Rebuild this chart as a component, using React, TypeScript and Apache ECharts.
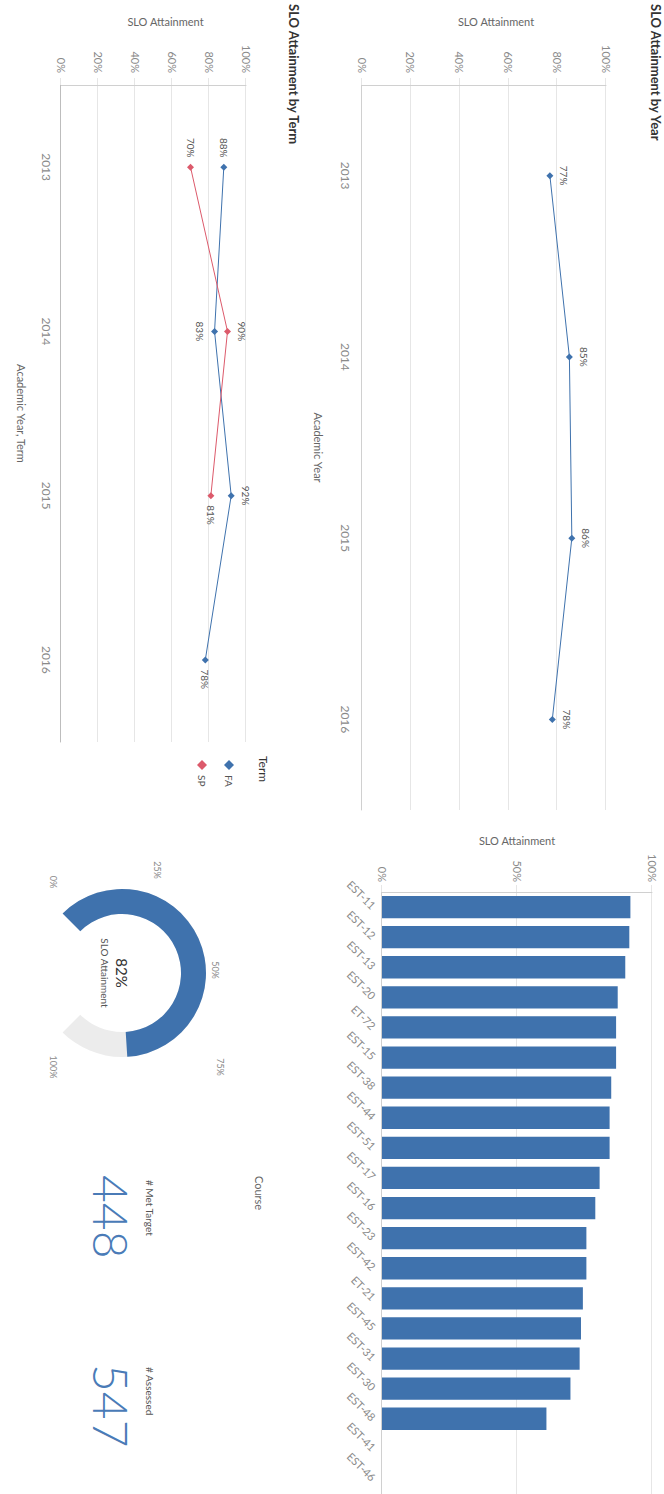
import React, { useEffect, useRef } from "react";
import * as echarts from "echarts";

// ---- data ----
const years = ["2013", "2014", "2015", "2016"];
const yearAttainment = [77, 85, 86, 78];

const terms = ["FA", "SP"];
const faAttainment = [88, 83, 92, 78];
const spAttainment: (number | null)[] = [70, 90, 81, null];

const courses = [
  "EST-11", "EST-12", "EST-13", "EST-20", "ET-72", "EST-15", "EST-38", "EST-44", "EST-51", "EST-17",
  "EST-16", "EST-23", "EST-42", "ET-21", "EST-45", "EST-31", "EST-30", "EST-48", "EST-41", "EST-46",
];
const courseAttainment: (number | null)[] = [
  92.0, 91.6, 90.1, 87.3, 86.7, 86.7, 84.9, 84.3, 84.3, 80.6,
  79.0, 75.7, 75.7, 74.4, 73.7, 73.2, 69.8, 60.9, null, null,
];

const overallAttainment = 82;
const gaugeTicks = ["0%", "25%", "50%", "75%", "100%"];
const metTarget = 448;
const assessed = 547;

// ---- styling ----
const FONT = "Lato, 'Open Sans', 'Noto Sans', sans-serif";
const BLUE = "#3f72ad";
const RED = "#dc5a6b";
const GRID = "#e6e6e6";
const AXIS = "#d0d0d0";
const TICK_TXT = "#8a8a8a";
const NAME_TXT = "#666";

const W = 1494;
const H = 664;

const valueAxis = (gridIndex: number, interval: number, nameGap: number, shift: number) => ({
  type: "value" as const,
  gridIndex,
  min: 0,
  max: 100,
  interval,
  name: "SLO Attainment",
  nameLocation: "middle" as const,
  nameGap,
  nameTextStyle: { fontSize: 11, color: NAME_TXT, padding: [0, 0, 0, shift] },
  axisLine: { show: true, lineStyle: { color: AXIS } },
  axisTick: { show: true, length: 7, lineStyle: { color: GRID } },
  axisLabel: { fontSize: 11, color: TICK_TXT, margin: 12, formatter: "{value}%" },
  splitLine: { lineStyle: { color: GRID } },
});

const pointLabel = (pos: string) => ({
  show: true,
  position: pos,
  distance: 6,
  fontSize: 10,
  color: "#555",
  formatter: "{c}%",
});

// label placement for each term point, in year order
const faLabelPos = ["left", "bottom", "top", "right"];
const spLabelPos = ["left", "top", "right", "top"];

export default function App() {
  const ref = useRef<HTMLDivElement>(null);

  useEffect(() => {
    if (!ref.current) return;
    const chart = echarts.init(ref.current, undefined, { renderer: "svg", width: W, height: H });

    const gaugeLabelPos: [number, number][] = [
      [882, 611],
      [870, 507],
      [970, 449],
      [1067, 444],
      [1067, 611],
    ];

    const option: any = {
      animation: false,
      backgroundColor: "#fff",
      textStyle: { fontFamily: FONT },
      title: [
        {
          text: "SLO Attainment by Year",
          left: 4,
          top: 2,
          padding: 0,
          textStyle: { fontSize: 13, fontWeight: "bold", color: "#333", fontFamily: FONT },
        },
        {
          text: "SLO Attainment by Term",
          left: 4,
          top: 364,
          padding: 0,
          textStyle: { fontSize: 13, fontWeight: "bold", color: "#333", fontFamily: FONT },
        },
        {
          text: "Term",
          left: 756,
          top: 395,
          padding: 0,
          textStyle: { fontSize: 12, fontWeight: "normal", color: "#333", fontFamily: FONT },
        },
      ],
      legend: {
        orient: "vertical",
        left: 755,
        top: 425,
        itemGap: 17,
        itemWidth: 10,
        itemHeight: 10,
        icon: "diamond",
        data: terms,
        textStyle: { fontSize: 10, color: "#555", fontFamily: FONT },
      },
      grid: [
        { left: 85, top: 58, width: 725, height: 244 },
        { left: 85, top: 418, width: 657, height: 185 },
        { left: 892, top: 12, width: 604, height: 270 },
      ],
      xAxis: [
        {
          type: "category",
          gridIndex: 0,
          data: years,
          name: "Academic Year",
          nameLocation: "middle",
          nameGap: 38,
          nameTextStyle: { fontSize: 11, color: NAME_TXT },
          axisLine: { lineStyle: { color: AXIS } },
          axisTick: { show: false },
          axisLabel: { fontSize: 12, color: TICK_TXT, margin: 11 },
        },
        {
          type: "category",
          gridIndex: 1,
          data: years,
          name: "Academic Year, Term",
          nameLocation: "middle",
          nameGap: 34,
          nameTextStyle: { fontSize: 11, color: NAME_TXT },
          axisLine: { lineStyle: { color: "#bdbdbd" } },
          axisTick: { show: false },
          axisLabel: { fontSize: 12, color: TICK_TXT, margin: 9 },
        },
        {
          type: "category",
          gridIndex: 2,
          data: courses,
          name: "Course",
          nameLocation: "middle",
          nameGap: 117,
          nameTextStyle: { fontSize: 11, color: NAME_TXT },
          axisLine: { lineStyle: { color: AXIS } },
          axisTick: { show: false },
          axisLabel: { fontSize: 11, color: TICK_TXT, margin: 8, rotate: 45, interval: 0 },
        },
      ],
      yAxis: [
        valueAxis(0, 20, 58, 24),
        valueAxis(1, 20, 58, 24),
        { ...valueAxis(2, 50, 46, 0), axisLabel: { fontSize: 11, color: TICK_TXT, margin: 10, formatter: "{value}%" } },
      ],
      series: [
        {
          type: "line",
          name: "Year",
          xAxisIndex: 0,
          yAxisIndex: 0,
          data: yearAttainment,
          symbol: "diamond",
          symbolSize: 7,
          itemStyle: { color: BLUE },
          lineStyle: { color: BLUE, width: 1 },
          label: pointLabel("top"),
        },
        {
          type: "line",
          name: "FA",
          xAxisIndex: 1,
          yAxisIndex: 1,
          data: faAttainment.map((v, i) => ({ value: v, label: pointLabel(faLabelPos[i]) })),
          symbol: "diamond",
          symbolSize: 7,
          itemStyle: { color: BLUE },
          lineStyle: { color: BLUE, width: 1 },
        },
        {
          type: "line",
          name: "SP",
          xAxisIndex: 1,
          yAxisIndex: 1,
          data: spAttainment.map((v, i) => (v == null ? null : { value: v, label: pointLabel(spLabelPos[i]) })),
          symbol: "diamond",
          symbolSize: 7,
          itemStyle: { color: RED },
          lineStyle: { color: RED, width: 1 },
        },
        {
          type: "bar",
          name: "Course",
          xAxisIndex: 2,
          yAxisIndex: 2,
          data: courseAttainment,
          barCategoryGap: "26%",
          itemStyle: { color: BLUE },
        },
        {
          type: "gauge",
          name: "Overall",
          center: [973, 542],
          radius: 84,
          startAngle: 225,
          endAngle: -45,
          min: 0,
          max: 100,
          data: [{ value: overallAttainment, name: "SLO Attainment" }],
          axisLine: { lineStyle: { width: 25, color: [[1, "#ececec"]] } },
          progress: { show: true, width: 25, itemStyle: { color: BLUE } },
          pointer: { show: false },
          axisTick: { show: false },
          splitLine: { show: false },
          axisLabel: { show: false },
          anchor: { show: false },
          title: { offsetCenter: [0, 17], fontSize: 10, color: "#555", fontFamily: FONT },
          detail: {
            offsetCenter: [0, 0],
            fontSize: 15,
            color: "#333",
            fontWeight: "normal",
            fontFamily: FONT,
            formatter: "{value}%",
          },
        },
      ],
      graphic: [
        ...gaugeTicks.map((t, i) => ({
          type: "text",
          x: gaugeLabelPos[i][0],
          y: gaugeLabelPos[i][1],
          style: {
            text: t,
            fontSize: 9,
            fill: TICK_TXT,
            fontFamily: FONT,
            textAlign: "center",
            textVerticalAlign: "middle",
          },
        })),
        {
          type: "text",
          x: 1180,
          y: 514,
          style: { text: "# Met Target", fontSize: 10, fill: "#555", fontFamily: FONT, textVerticalAlign: "middle" },
        },
        {
          type: "text",
          x: 1175,
          y: 553,
          style: {
            text: String(metTarget),
            fontSize: 48,
            fontWeight: 300,
            fill: "#4a7bb7",
            fontFamily: FONT,
            textVerticalAlign: "middle",
          },
        },
        {
          type: "text",
          x: 1367,
          y: 514,
          style: { text: "# Assessed", fontSize: 10, fill: "#555", fontFamily: FONT, textVerticalAlign: "middle" },
        },
        {
          type: "text",
          x: 1364,
          y: 553,
          style: {
            text: String(assessed),
            fontSize: 48,
            fontWeight: 300,
            fill: "#4a7bb7",
            fontFamily: FONT,
            textVerticalAlign: "middle",
          },
        },
      ],
    };

    chart.setOption(option);
    return () => chart.dispose();
  }, []);

  return (
    <div
      style={{
        position: "fixed",
        left: 0,
        top: 0,
        width: H,
        height: W,
        overflow: "hidden",
        background: "#fff",
      }}
    >
      <div
        ref={ref}
        style={{
          width: W,
          height: H,
          transformOrigin: "0 0",
          transform: `translate(${H}px, 0px) rotate(90deg)`,
        }}
      />
    </div>
  );
}
